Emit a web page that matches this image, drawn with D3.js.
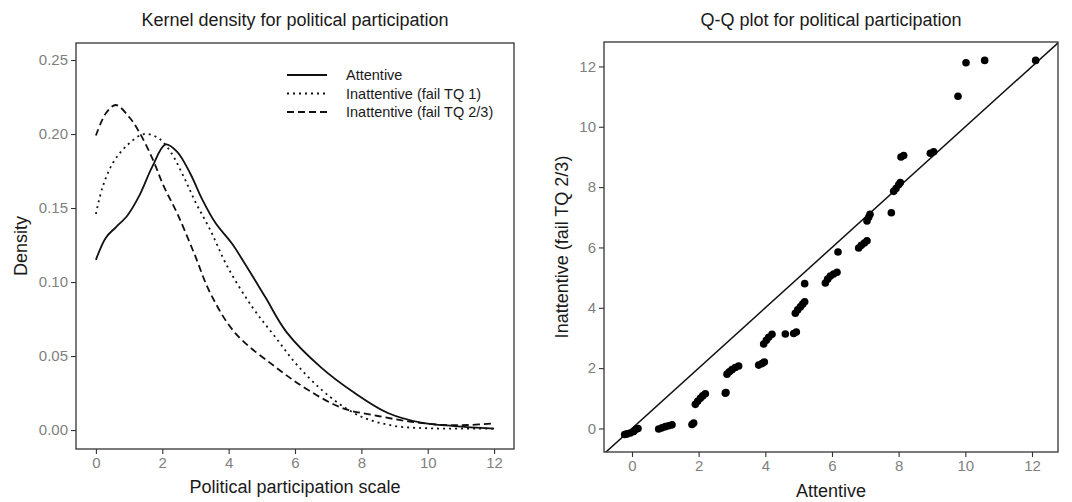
<!DOCTYPE html>
<html>
<head>
	<meta charset="UTF-8" />
	<title>political participation</title>
	<script src="https://d3js.org/d3.v7.min.js"></script>
	<style>
		body { margin: 0; background: #fff; }
		text { font-family: "Liberation Sans", Arial, sans-serif; }
	</style>
</head>
<body>
	<svg id="chart" width="1072" height="502"></svg>

	<script type="text/javascript">
	// density curves (x = scale value, y = density)
	const attX = [0, 0.3, 0.6, 0.95, 1.3, 1.7, 2.1, 2.45, 2.85, 3.2, 3.6, 4.1, 4.5, 5.1, 5.75, 6.8, 7.8, 8.8, 9.8, 10.8, 12]
	const attY = [0.115, 0.130, 0.137, 0.145, 0.158, 0.178, 0.193, 0.188, 0.173, 0.156, 0.140, 0.126, 0.112, 0.090, 0.066, 0.042, 0.025, 0.0115, 0.005, 0.0027, 0.001]
	const tq1X = [0, 0.2, 0.5, 0.9, 1.45, 1.9, 2.25, 2.65, 3.0, 3.45, 3.95, 4.7, 5.4, 6.1, 7.05, 8.0, 9.0, 10, 11, 12]
	const tq1Y = [0.146, 0.164, 0.180, 0.1915, 0.200, 0.197, 0.188, 0.171, 0.154, 0.135, 0.111, 0.0835, 0.063, 0.043, 0.0225, 0.009, 0.0028, 0.0012, 0.001, 0.0009]
	const tq23X = [0, 0.3, 0.6, 1.0, 1.3, 1.7, 2.05, 2.45, 2.95, 3.45, 4.2, 5.4, 6.4, 7.45, 8.5, 9.5, 10.5, 11.2, 12]
	const tq23Y = [0.199, 0.214, 0.2196, 0.2115, 0.2015, 0.1836, 0.1644, 0.1464, 0.120, 0.0924, 0.0655, 0.0428, 0.027, 0.0147, 0.0095, 0.0056, 0.0034, 0.0034, 0.0045]
	const seriesNames = ["Attentive", "Inattentive (fail TQ 1)", "Inattentive (fail TQ 2/3)"]

	// Q-Q points: attentive quantile vs inattentive (fail TQ 2/3) quantile
	const qqX = [-0.22, -0.15, -0.05, 0.05, 0.12, 0.18, 0.8, 0.9, 1.0, 1.1, 1.2, 1.8, 1.85,
		1.9, 1.97, 2.05, 2.12, 2.2, 2.8, 2.82, 2.85, 2.92, 3.0, 3.1, 3.2, 3.8, 3.9, 3.97,
		3.95, 4.03, 4.1, 4.2, 4.6, 4.85, 4.93, 4.9, 4.97, 5.05, 5.12, 5.18, 5.18,
		5.8, 5.87, 5.95, 6.05, 6.15, 6.18, 6.8, 6.88, 6.97, 7.05, 7.05, 7.1, 7.14, 7.78,
		7.85, 7.92, 8.0, 8.05, 8.07, 8.15, 8.95, 9.05, 9.78, 10.02, 10.58, 12.11]
	const qqY = [-0.2, -0.18, -0.15, -0.1, -0.03, 0.0, -0.02, 0.02, 0.06, 0.09, 0.12, 0.13, 0.18,
		0.8, 0.9, 1.0, 1.08, 1.15, 1.17, 1.19, 1.8, 1.88, 1.95, 2.02, 2.07, 2.1, 2.15, 2.2,
		2.8, 2.92, 3.02, 3.12, 3.13, 3.15, 3.2, 3.82, 3.93, 4.03, 4.12, 4.2, 4.8,
		4.82, 4.95, 5.05, 5.12, 5.18, 5.85, 5.98, 6.07, 6.15, 6.22, 6.88, 7.0, 7.1, 7.15,
		7.86, 7.95, 8.08, 8.15, 9.0, 9.05, 9.12, 9.17, 11.01, 12.12, 12.2, 12.2]

	const xTicks = [0, 2, 4, 6, 8, 10, 12]
	const densTicks = [0, 0.05, 0.10, 0.15, 0.20, 0.25]
	const qqTicks = [0, 2, 4, 6, 8, 10, 12]

	const svg = d3.select("#chart")
	const axisCol = "#333333"
	const tickTextCol = "#7f7f7f"

	function styleAxis(g){
		g.select(".domain").remove()
		g.selectAll(".tick line").attr("stroke", axisCol).attr("stroke-width", 1.1)
		g.selectAll(".tick text").attr("fill", tickTextCol).style("font-size", "15px")
			.style("font-family", "Liberation Sans, Arial, sans-serif")
	}

	// ---------- left panel: kernel density ----------
	const L = {left: 76, right: 514, top: 43, bottom: 449}
	const xL = d3.scaleLinear().domain([-0.6, 12.6]).range([L.left, L.right])
	const yL = d3.scaleLinear().domain([-0.0128, 0.2615]).range([L.bottom, L.top])

	const gL = svg.append("g")
	gL.append("g").attr("transform", `translate(0,${L.bottom})`)
		.call(d3.axisBottom(xL).tickValues(xTicks).tickSize(5).tickPadding(3).tickFormat(d3.format("d")))
		.call(styleAxis)
	gL.append("g").attr("transform", `translate(${L.left},0)`)
		.call(d3.axisLeft(yL).tickValues(densTicks).tickSize(5).tickPadding(3).tickFormat(d3.format(".2f")))
		.call(styleAxis)

	const line = d3.line().x(d => xL(d[0])).y(d => yL(d[1])).curve(d3.curveCatmullRom)
	const dens = [
		{name: seriesNames[0], pts: d3.zip(attX, attY), dash: null},
		{name: seriesNames[1], pts: d3.zip(tq1X, tq1Y), dash: "2,4"},
		{name: seriesNames[2], pts: d3.zip(tq23X, tq23Y), dash: "7,4"}
	]
	dens.forEach(s => {
		gL.append("path")
			.attr("d", line(s.pts))
			.style("fill", "none")
			.style("stroke", "#111")
			.style("stroke-width", 1.8)
			.style("stroke-dasharray", s.dash)
	})

	gL.append("rect").attr("x", L.left).attr("y", L.top)
		.attr("width", L.right - L.left).attr("height", L.bottom - L.top)
		.style("fill", "none").style("stroke", axisCol).style("stroke-width", 1.3)

	// legend
	const leg = gL.append("g").attr("transform", "translate(287,75)")
	dens.forEach((s, i) => {
		leg.append("line").attr("x1", 0).attr("x2", 40).attr("y1", i * 18.5).attr("y2", i * 18.5)
			.style("stroke", "#111").style("stroke-width", 1.8).style("stroke-dasharray", s.dash)
		leg.append("text").attr("x", 59).attr("y", i * 18.5).attr("dy", "0.35em")
			.style("font-size", "14.5px").attr("fill", "#1a1a1a").text(s.name)
	})

	gL.append("text").attr("x", (L.left + L.right) / 2).attr("y", 26)
		.attr("text-anchor", "middle").style("font-size", "18px").attr("fill", "#1a1a1a")
		.text("Kernel density for political participation")
	gL.append("text").attr("x", (L.left + L.right) / 2).attr("y", 493)
		.attr("text-anchor", "middle").style("font-size", "18px").attr("fill", "#1a1a1a")
		.text("Political participation scale")
	gL.append("text").attr("transform", `translate(27,${(L.top + L.bottom) / 2}) rotate(-90)`)
		.attr("text-anchor", "middle").style("font-size", "18px").attr("fill", "#1a1a1a")
		.text("Density")

	// ---------- right panel: Q-Q plot ----------
	const R = {left: 604, right: 1058, top: 42, bottom: 452}
	const xR = d3.scaleLinear().domain([-0.84, 12.78]).range([R.left, R.right])
	const yR = d3.scaleLinear().domain([-0.78, 12.81]).range([R.bottom, R.top])

	const gR = svg.append("g")
	gR.append("g").attr("transform", `translate(0,${R.bottom})`)
		.call(d3.axisBottom(xR).tickValues(xTicks).tickSize(5).tickPadding(3))
		.call(styleAxis)
	gR.append("g").attr("transform", `translate(${R.left},0)`)
		.call(d3.axisLeft(yR).tickValues(qqTicks).tickSize(5).tickPadding(3))
		.call(styleAxis)

	gR.append("clipPath").attr("id", "qqclip").append("rect")
		.attr("x", R.left).attr("y", R.top).attr("width", R.right - R.left).attr("height", R.bottom - R.top)

	// reference line y = x
	const lo = -0.84, hi = 12.81
	gR.append("line").attr("clip-path", "url(#qqclip)")
		.attr("x1", xR(lo)).attr("y1", yR(lo)).attr("x2", xR(hi)).attr("y2", yR(hi))
		.style("stroke", "#111").style("stroke-width", 1.5)

	gR.selectAll("circle.qq").data(d3.zip(qqX, qqY)).join("circle")
		.attr("class", "qq")
		.attr("cx", d => xR(d[0])).attr("cy", d => yR(d[1])).attr("r", 3.8)
		.style("fill", "#000")

	gR.append("rect").attr("x", R.left).attr("y", R.top)
		.attr("width", R.right - R.left).attr("height", R.bottom - R.top)
		.style("fill", "none").style("stroke", axisCol).style("stroke-width", 1.3)

	gR.append("text").attr("x", (R.left + R.right) / 2).attr("y", 26)
		.attr("text-anchor", "middle").style("font-size", "18px").attr("fill", "#1a1a1a")
		.text("Q-Q plot for political participation")
	gR.append("text").attr("x", (R.left + R.right) / 2).attr("y", 497)
		.attr("text-anchor", "middle").style("font-size", "18px").attr("fill", "#1a1a1a")
		.text("Attentive")
	gR.append("text").attr("transform", `translate(568,${(R.top + R.bottom) / 2}) rotate(-90)`)
		.attr("text-anchor", "middle").style("font-size", "18px").attr("fill", "#1a1a1a")
		.text("Inattentive (fail TQ 2/3)")
	</script>
</body>
</html>
